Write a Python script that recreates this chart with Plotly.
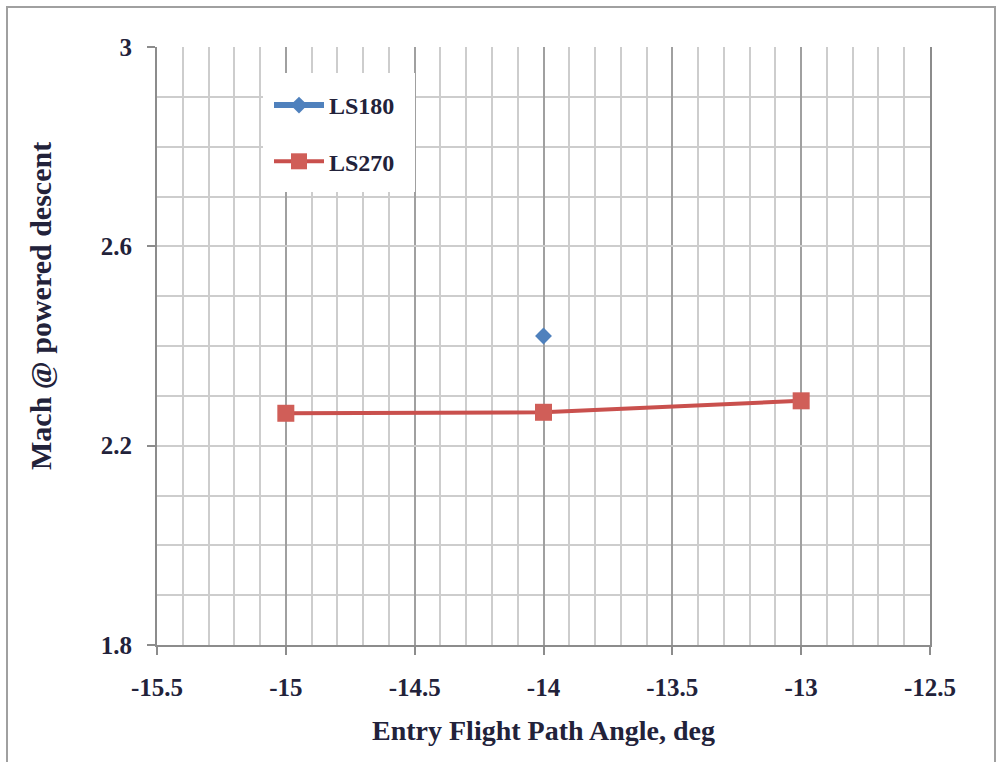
import plotly.graph_objects as go

# Entry flight path angle (deg) and Mach number at start of powered descent
ls180_angle = [-14]
ls180_mach = [2.42]

ls270_angle = [-15, -14, -13]
ls270_mach = [2.265, 2.267, 2.29]

x_tick_vals = [-15.5, -15, -14.5, -14, -13.5, -13, -12.5]
x_tick_text = ["-15.5", "-15", "-14.5", "-14", "-13.5", "-13", "-12.5"]
y_tick_vals = [1.8, 2.2, 2.6, 3.0]
y_tick_text = ["1.8", "2.2", "2.6", "3"]

TEXT = "#22223a"
FONT = "Liberation Serif"

fig = go.Figure()
fig.add_trace(go.Scatter(
    x=ls180_angle, y=ls180_mach, name="LS180", mode="lines+markers",
    legendgroup="a",
    line=dict(color="#4F81BD", width=6),
    marker=dict(symbol="diamond", size=13, color="#4F81BD"),
))
fig.add_trace(go.Scatter(
    x=ls270_angle, y=ls270_mach, name="LS270", mode="lines+markers",
    legendgroup="b",
    line=dict(color="#C9504D", width=4),
    marker=dict(symbol="square", size=17, color="#D05E58"),
))

# plot area spans pixels x 157..930, y 47..645
L, R, T, B = 157, 930, 47, 645
W, H = 997, 762


def px(x):
    return (x - L) / (R - L)


def py(y):
    return (B - y) / (B - T)


fig.update_layout(
    width=W, height=H,
    margin=dict(l=L, r=W - R, t=T, b=H - B),
    paper_bgcolor="white", plot_bgcolor="white",
    font=dict(family=FONT, color=TEXT),
    showlegend=True,
    legend=dict(
        x=px(269), y=py(83), xanchor="left", yanchor="top",
        bgcolor="rgba(0,0,0,0)", borderwidth=0,
        traceorder="grouped", tracegroupgap=22,
        itemwidth=50,
        font=dict(family=FONT, size=24, color=TEXT, weight="bold"),
    ),
    xaxis=dict(
        range=[-15.5, -12.5], tickvals=x_tick_vals, ticktext=x_tick_text,
        showgrid=True, gridcolor="#a0a0a0", gridwidth=1.5,
        minor=dict(dtick=0.1, tick0=-15.5, showgrid=True, gridcolor="#cdcdcd", gridwidth=1.5),
        showline=True, linecolor="#8c8c8c", linewidth=2,
        ticks="outside", ticklen=8, tickcolor="#8c8c8c", tickwidth=2,
        tickfont=dict(family=FONT, size=25, color=TEXT, weight="bold"),
        ticklabelstandoff=11,
        zeroline=False,
    ),
    yaxis=dict(
        range=[1.8, 3.0], tickvals=y_tick_vals, ticktext=y_tick_text,
        showgrid=True, gridcolor="#cdcdcd", gridwidth=1.5,
        minor=dict(dtick=0.1, tick0=1.8, showgrid=True, gridcolor="#cdcdcd", gridwidth=1.5),
        showline=True, mirror=True, linecolor="#8c8c8c", linewidth=2,
        ticks="outside", ticklen=8, tickcolor="#8c8c8c", tickwidth=2,
        tickfont=dict(family=FONT, size=25, color=TEXT, weight="bold"),
        ticklabelstandoff=10,
        zeroline=False,
    ),
    shapes=[
        # white backing behind the legend
        dict(type="rect", xref="paper", yref="paper", layer="above",
             x0=px(263), x1=px(415), y0=py(192), y1=py(73),
             fillcolor="white", line=dict(width=0)),
        # outer frame
        dict(type="rect", xref="paper", yref="paper", layer="above",
             x0=px(7), x1=px(995), y0=py(770), y1=py(7),
             fillcolor="rgba(0,0,0,0)", line=dict(color="#a0a0a0", width=2)),
    ],
    annotations=[
        dict(text="Entry Flight Path Angle, deg", xref="paper", yref="paper",
             x=px(543), y=py(731), xanchor="center", yanchor="middle",
             showarrow=False,
             font=dict(family=FONT, size=28, color=TEXT, weight="bold")),
        dict(text="Mach @ powered descent", xref="paper", yref="paper",
             x=px(40), y=py(306), xanchor="center", yanchor="middle",
             textangle=-90, showarrow=False,
             font=dict(family=FONT, size=30, color=TEXT, weight="bold")),
    ],
)

fig.write_html("out.html")
